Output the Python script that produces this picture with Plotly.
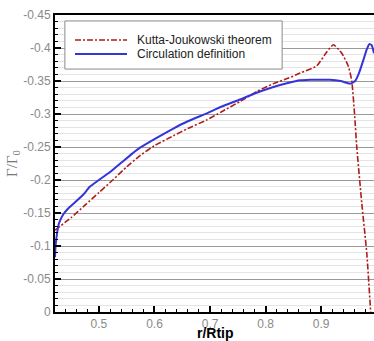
import plotly.graph_objects as go

# Kutta-Joukowski theorem
kj_x = [0.421, 0.45, 0.475, 0.50, 0.525, 0.55, 0.574, 0.60, 0.634, 0.66, 0.694, 0.72, 0.754,
        0.784, 0.814, 0.84, 0.862, 0.892, 0.91, 0.922, 0.937, 0.949, 0.955, 0.960, 0.964,
        0.973, 0.982, 0.989]
kj_y = [-0.124, -0.143, -0.162, -0.181, -0.200, -0.220, -0.237, -0.252, -0.267, -0.278, -0.291,
        -0.303, -0.319, -0.334, -0.346, -0.354, -0.362, -0.373, -0.394, -0.405, -0.392, -0.372,
        -0.350, -0.300, -0.250, -0.165, -0.089, 0.0]

# Circulation definition
cd_x = [0.421, 0.422, 0.424, 0.428, 0.436, 0.446, 0.458, 0.472, 0.484, 0.50, 0.52, 0.54, 0.56,
        0.574, 0.60, 0.634, 0.66, 0.694, 0.72, 0.754, 0.78, 0.814, 0.84, 0.862, 0.88, 0.90,
        0.916, 0.935, 0.952, 0.961, 0.968, 0.976, 0.982, 0.987, 0.991, 0.995]
cd_y = [-0.083, -0.100, -0.115, -0.134, -0.148, -0.158, -0.167, -0.178, -0.190, -0.200, -0.212,
        -0.226, -0.240, -0.249, -0.262, -0.278, -0.289, -0.301, -0.311, -0.322, -0.331, -0.341,
        -0.347, -0.351, -0.352, -0.352, -0.352, -0.350, -0.346, -0.350, -0.362, -0.382, -0.398,
        -0.406, -0.404, -0.392]

series_names = ["Kutta-Joukowski theorem", "Circulation definition"]
series_colors = ["#b01c1c", "#3434d8"]
series_dash = ["6px,2px,2px,2px", "solid"]
series_width = [1.6, 2]

x_ticks = [0.5, 0.6, 0.7, 0.8, 0.9]
x_ticktext = ["0.5", "0.6", "0.7", "0.8", "0.9"]
y_ticks = [0, -0.05, -0.1, -0.15, -0.2, -0.25, -0.3, -0.35, -0.4, -0.45]
y_ticktext = ["0", "-0.05", "-0.1", "-0.15", "-0.2", "-0.25", "-0.3", "-0.35", "-0.4", "-0.45"]

fig = go.Figure()
for xs, ys, nm, col, dsh, w in zip([kj_x, cd_x], [kj_y, cd_y], series_names, series_colors,
                                   series_dash, series_width):
    fig.add_trace(go.Scatter(x=xs, y=ys, mode="lines", name=nm, showlegend=False,
                             line=dict(color=col, width=w, dash=dsh,
                                       shape="spline", smoothing=0.5)))

tickfont = dict(family="Liberation Sans, Arial, sans-serif", size=12, color="#8a8a8a")

# legend drawn in paper coordinates
shapes = [dict(type="rect", xref="paper", yref="paper", x0=0.031, x1=0.712, y0=0.818, y1=0.980,
               line=dict(color="#8a8a8a", width=1), fillcolor="white", layer="above")]
annotations = []
leg_y = [0.9158, 0.8687]
for nm, col, dsh, w, ly in zip(series_names, series_colors, series_dash, series_width, leg_y):
    shapes.append(dict(type="line", xref="paper", yref="paper", x0=0.0627, x1=0.2257, y0=ly, y1=ly,
                       line=dict(color=col, width=w, dash=dsh), layer="above"))
    annotations.append(dict(text=nm, xref="paper", yref="paper", x=0.2508, y=ly,
                            xanchor="left", yanchor="middle", showarrow=False,
                            font=dict(family="Liberation Sans, Arial, sans-serif", size=12,
                                      color="#222")))
annotations.append(dict(text="<b>r/Rtip</b>", xref="paper", yref="paper", x=0.503, y=-0.0707,
                        xanchor="center", yanchor="middle", showarrow=False,
                        font=dict(family="Liberation Sans, Arial, sans-serif", size=14,
                                  color="black")))

fig.update_layout(
    width=374, height=341,
    margin=dict(l=55, r=0, t=15, b=29),
    paper_bgcolor="white", plot_bgcolor="white",
    font=dict(family="Liberation Sans, Arial, sans-serif"),
    showlegend=False,
    shapes=shapes,
    annotations=annotations,
    xaxis=dict(range=[0.421, 0.995], tickvals=x_ticks, ticktext=x_ticktext,
               ticks="inside", ticklen=6, tickwidth=2, tickcolor="black",
               showline=True, linecolor="black", linewidth=2, mirror=True,
               showgrid=False, zeroline=False, tickfont=tickfont,
               minor=dict(dtick=0.02, ticks="inside", ticklen=3, tickwidth=1, tickcolor="black",
                          showgrid=False)),
    yaxis=dict(range=[0, -0.45], tickvals=y_ticks, ticktext=y_ticktext,
               ticks="inside", ticklen=6, tickwidth=2, tickcolor="black",
               showline=True, linecolor="black", linewidth=2,
               showgrid=True, gridcolor="#9a9a9a", gridwidth=1, zeroline=False,
               tickfont=tickfont,
               minor=dict(dtick=0.01, ticks="inside", ticklen=3, tickwidth=1, tickcolor="black",
                          showgrid=True, gridcolor="#e4e4e4", gridwidth=1),
               title=dict(text="Γ/Γ<sub>0</sub>", standoff=2,
                          font=dict(family="Liberation Serif, serif", size=15, color="#777"))),
)

fig.write_html("out.html")
